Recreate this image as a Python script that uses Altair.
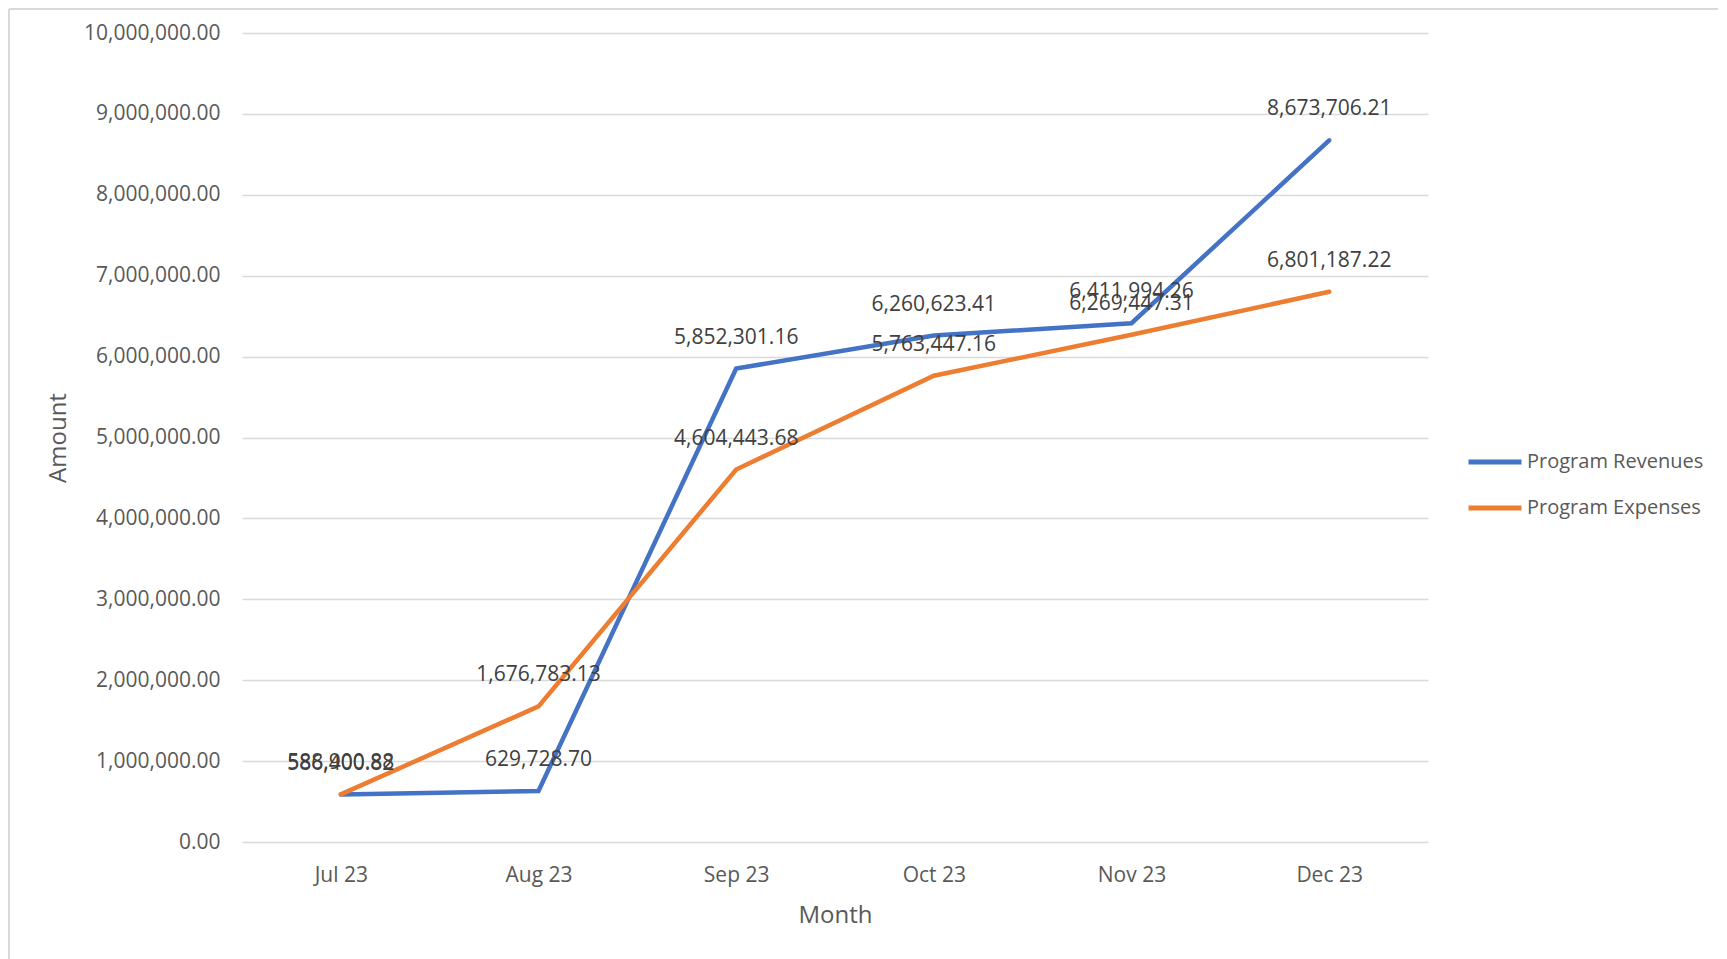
import altair as alt
import pandas as pd

months = ["Jul 23", "Aug 23", "Sep 23", "Oct 23", "Nov 23", "Dec 23"]
revenues = [586400.82, 629728.70, 5852301.16, 6260623.41, 6411994.26, 8673706.21]
expenses = [588900.88, 1676783.13, 4604443.68, 5763447.16, 6269447.31, 6801187.22]
series_names = ["Program Revenues", "Program Expenses"]
colors = ["#4472C4", "#ED7D31"]
y_ticks = [i * 1000000 for i in range(11)]

rows = []
for m, r, e in zip(months, revenues, expenses):
    rows.append({"Month": m, "Series": series_names[0], "Amount": r})
    rows.append({"Month": m, "Series": series_names[1], "Amount": e})
df = pd.DataFrame(rows)

FONT = "Open Sans"
GREY = "#595959"

x = alt.X("Month:N", sort=months, scale=alt.Scale(type="point", padding=0.5),
          axis=alt.Axis(title="Month", labelAngle=0, labelFontSize=21, labelColor=GREY,
                        titleFontSize=24, titleColor=GREY, titleFontWeight="normal",
                        ticks=False, domain=False, labelPadding=22, titlePadding=18,
                        titleFont=FONT, labelFont=FONT))
y = alt.Y("Amount:Q", scale=alt.Scale(domain=[0, 10000000]),
          axis=alt.Axis(title="Amount", values=y_ticks, format=",.2f", labelFontSize=21,
                        labelColor=GREY, titleFontSize=24, titleColor=GREY,
                        titleFontWeight="normal", ticks=False, domain=False,
                        gridColor="#d9d9d9", gridWidth=1.5, labelPadding=22,
                        titlePadding=13, titleFont=FONT, labelFont=FONT))
color = alt.Color("Series:N", scale=alt.Scale(domain=series_names, range=colors),
                  sort=series_names,
                  legend=alt.Legend(title=None, orient="none", legendX=1224, legendY=400,
                                    symbolType="stroke", symbolSize=2809,
                                    symbolStrokeWidth=5, labelFontSize=20,
                                    labelColor=GREY, labelFont=FONT, rowPadding=7,
                                    labelOffset=3, labelLimit=0))

base = alt.Chart(df)
lines = base.mark_line(strokeWidth=4.5, strokeCap="round").encode(x=x, y=y, color=color)
labels = base.mark_text(dy=-31, fontSize=21, color="#404040", font=FONT).encode(
    x=alt.X("Month:N", sort=months), y="Amount:Q",
    text=alt.Text("Amount:Q", format=",.2f"))

border = alt.Chart(pd.DataFrame({"a": [0]})).mark_rule(color="#d9d9d9", strokeWidth=2).encode(
    x=alt.value(-233), x2=alt.value(-233), y=alt.value(-24), y2=alt.value(950))
border_top = alt.Chart(pd.DataFrame({"a": [0]})).mark_rule(color="#d9d9d9", strokeWidth=2).encode(
    x=alt.value(-233), x2=alt.value(1480), y=alt.value(-24), y2=alt.value(-24))

chart = alt.layer(border, border_top, lines, labels).properties(
    width=1186, height=809,
    autosize=alt.AutoSizeParams(type="none"),
    padding={"left": 234, "top": 25, "right": 290, "bottom": 130},
).configure(font=FONT).configure_view(stroke=None)

chart.save("out.html", embed_options={"renderer": "svg", "actions": False})
